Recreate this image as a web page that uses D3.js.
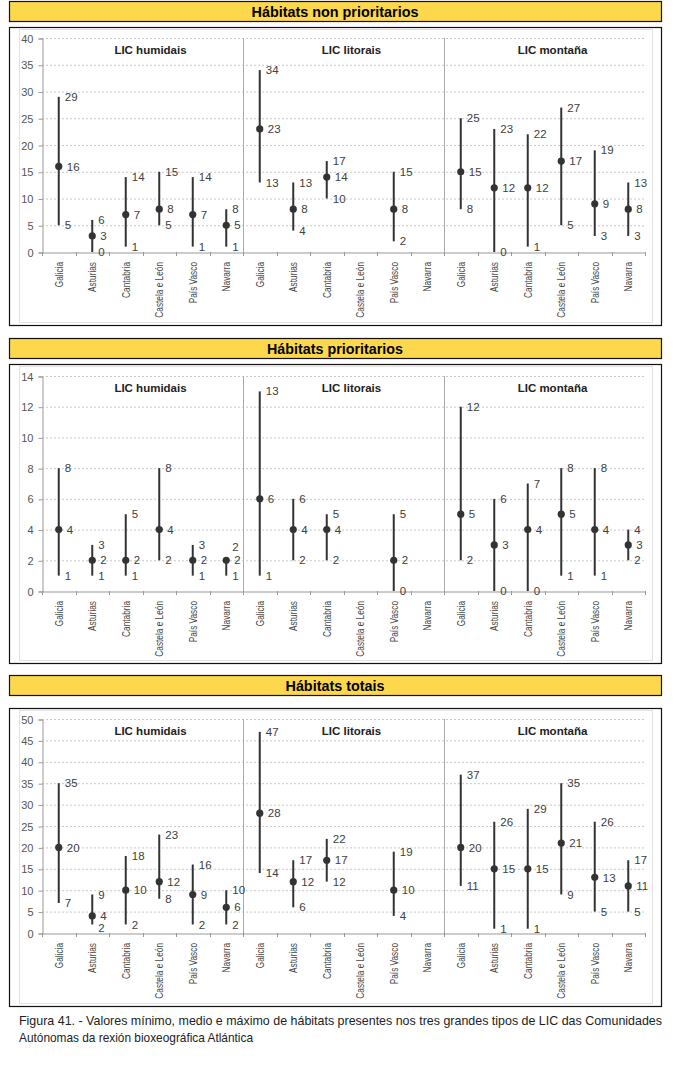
<!DOCTYPE html>
<html lang="gl">
<head>
  <meta charset="UTF-8">
  <title>Figura 41 - Hábitats por tipo de LIC</title>
  <script src="https://d3js.org/d3.v7.min.js"></script>
  <style>
    body {
      margin: 0;
      background: white;
      font-family: "Liberation Sans", Arial, sans-serif;
    }
    svg { display: block; }
    .grid line { stroke: #c8c8c8; stroke-dasharray: 2,2; }
    .tick-label { font-size: 11px; fill: #555; }
    .cat-label { font-size: 11.5px; fill: #444; }
    .val-label { font-size: 11.5px; fill: #404040; }
    .group-title { font-size: 11.5px; font-weight: bold; fill: #222; }
    .bar-title { font-size: 15px; font-weight: bold; fill: #000; }
    .caption { font-size: 13px; fill: #222; }
  </style>
</head>
<body>
<svg width="700" height="1069"></svg>
<script>
  const regions = ["Galicia", "Asturias", "Cantabria", "Castela e León", "País Vasco", "Navarra"];
  const groups = ["LIC humidais", "LIC litorais", "LIC montaña"];

  // order: humidais x6, litorais x6, montaña x6 (null = no data)
  const nonPriorMin  = [5, 0, 1, 5, 1, 1,   13, 4, 10, null, 2, null,   8, 0, 1, 5, 3, 3];
  const nonPriorMean = [16, 3, 7, 8, 7, 5,  23, 8, 14, null, 8, null,   15, 12, 12, 17, 9, 8];
  const nonPriorMax  = [29, 6, 14, 15, 14, 8, 34, 13, 17, null, 15, null, 25, 23, 22, 27, 19, 13];

  const priorMin  = [1, 1, 1, 2, 1, 1,  1, 2, 2, null, 0, null,  2, 0, 0, 1, 1, 2];
  const priorMean = [4, 2, 2, 4, 2, 2,  6, 4, 4, null, 2, null,  5, 3, 4, 5, 4, 3];
  const priorMax  = [8, 3, 5, 8, 3, 2,  13, 6, 5, null, 5, null, 12, 6, 7, 8, 8, 4];

  const totalMin  = [7, 2, 2, 8, 2, 2,     14, 6, 12, null, 4, null,   11, 1, 1, 9, 5, 5];
  const totalMean = [20, 4, 10, 12, 9, 6,  28, 12, 17, null, 10, null, 20, 15, 15, 21, 13, 11];
  const totalMax  = [35, 9, 18, 23, 16, 10, 47, 17, 22, null, 19, null, 37, 26, 29, 35, 26, 17];

  const panelTitles = ["Hábitats non prioritarios", "Hábitats prioritarios", "Hábitats totais"];
  const yMaxes = [40, 14, 50];
  const yTickSteps = [5, 2, 5];

  const caption = [
    "Figura 41. -  Valores mínimo, medio e máximo de hábitats presentes nos tres grandes tipos de LIC das Comunidades",
    "Autónomas da rexión bioxeográfica Atlántica"
  ];

  const panels = [
    { title: panelTitles[0], yMax: yMaxes[0], step: yTickSteps[0], min: nonPriorMin, mean: nonPriorMean, max: nonPriorMax,
      barTop: 1, boxTop: 27, boxBottom: 325, plotTop: 38, plotBottom: 252, titleW: 167 },
    { title: panelTitles[1], yMax: yMaxes[1], step: yTickSteps[1], min: priorMin, mean: priorMean, max: priorMax,
      barTop: 338, boxTop: 364, boxBottom: 663, plotTop: 376, plotBottom: 591, titleW: 136 },
    { title: panelTitles[2], yMax: yMaxes[2], step: yTickSteps[2], min: totalMin, mean: totalMean, max: totalMax,
      barTop: 675, boxTop: 708, boxBottom: 1006, plotTop: 719, plotBottom: 933, titleW: 99 }
  ];

  const svg = d3.select("svg");
  const left = 42, right = 645;

  const keys = [];
  groups.forEach(g => regions.forEach(r => keys.push(g + "|" + r)));

  const x = d3.scaleBand().domain(keys).range([left, right]);
  const xGroup = d3.scaleBand().domain(groups).range([left, right]);

  panels.forEach(p => {
    const g = svg.append("g");

    // yellow title bar
    g.append("rect")
      .attr("x", 9.5).attr("y", p.barTop + 0.5)
      .attr("width", 652).attr("height", 20)
      .attr("fill", "#fdd84c").attr("stroke", "#111").attr("stroke-width", 1.2);
    g.append("text").attr("class", "bar-title")
      .attr("x", 335).attr("y", p.barTop + 16)
      .attr("text-anchor", "middle")
      .attr("textLength", p.titleW).attr("lengthAdjust", "spacingAndGlyphs")
      .text(p.title);

    // chart box
    g.append("rect")
      .attr("x", 9.5).attr("y", p.boxTop + 0.5)
      .attr("width", 652).attr("height", p.boxBottom - p.boxTop)
      .attr("fill", "white").attr("stroke", "#111").attr("stroke-width", 1.2);
    g.append("rect")
      .attr("x", 19.5).attr("y", p.boxTop + 2.5)
      .attr("width", 633).attr("height", p.boxBottom - p.boxTop - 5)
      .attr("fill", "none").attr("stroke", "#e2e2e2");

    const y = d3.scaleLinear().domain([0, p.yMax]).range([p.plotBottom, p.plotTop]);
    const ticks = d3.range(0, p.yMax + 0.001, p.step);

    // gridlines
    g.append("g").attr("class", "grid")
      .selectAll("line").data(ticks.filter(t => t > 0)).join("line")
      .attr("x1", left).attr("x2", right)
      .attr("y1", d => y(d) + 0.5).attr("y2", d => y(d) + 0.5);

    // y axis
    const yAxis = g.append("g")
      .attr("transform", `translate(${left + 0.5},0.5)`)
      .call(d3.axisLeft(y).tickValues(ticks).tickSize(4).tickPadding(5));
    yAxis.select(".domain").attr("stroke", "#999");
    yAxis.selectAll(".tick line").attr("stroke", "#999");
    yAxis.selectAll(".tick text").attr("class", "tick-label").attr("font-family", null).attr("font-size", null).attr("fill", null);

    // x axis with ticks at category boundaries
    const xAxis = g.append("g")
      .attr("transform", `translate(0,${p.plotBottom + 0.5})`)
      .call(d3.axisBottom(x).tickSize(0).tickFormat(""));
    xAxis.select(".domain").attr("stroke", "#999");
    g.append("g").selectAll("line")
      .data(d3.range(keys.length + 1)).join("line")
      .attr("x1", i => Math.round(left + i * x.bandwidth()) + 0.5)
      .attr("x2", i => Math.round(left + i * x.bandwidth()) + 0.5)
      .attr("y1", p.plotBottom).attr("y2", p.plotBottom + 4)
      .attr("stroke", "#999");

    // group dividers
    g.append("g").selectAll("line")
      .data(groups.slice(1)).join("line")
      .attr("x1", d => Math.round(xGroup(d)) + 0.5).attr("x2", d => Math.round(xGroup(d)) + 0.5)
      .attr("y1", p.plotBottom).attr("y2", p.plotTop)
      .attr("stroke", "#aaa");

    // group titles
    g.append("g").selectAll("text")
      .data(groups).join("text")
      .attr("class", "group-title")
      .attr("x", d => xGroup(d) + xGroup.bandwidth() / 2 + 8)
      .attr("y", p.plotTop + 16)
      .attr("text-anchor", "middle")
      .text(d => d);

    // category labels (compressed like the narrow font of the original)
    g.append("g").selectAll("text")
      .data(keys).join("text")
      .attr("class", "cat-label")
      .attr("text-anchor", "end")
      .attr("transform", d => `translate(${x(d) + x.bandwidth() / 2 + 4},${p.plotBottom + 10}) rotate(-90) scale(0.72,1)`)
      .text(d => d.split("|")[1]);

    // high-low-mean marks
    const rows = keys.map((k, i) => ({ key: k, min: p.min[i], mean: p.mean[i], max: p.max[i] }))
      .filter(d => d.mean !== null);

    const marks = g.append("g");
    marks.selectAll("line").data(rows).join("line")
      .attr("x1", d => x(d.key) + x.bandwidth() / 2)
      .attr("x2", d => x(d.key) + x.bandwidth() / 2)
      .attr("y1", d => y(d.min)).attr("y2", d => y(d.max))
      .attr("stroke", "#333").attr("stroke-width", 2);
    marks.selectAll("circle").data(rows).join("circle")
      .attr("cx", d => x(d.key) + x.bandwidth() / 2)
      .attr("cy", d => y(d.mean))
      .attr("r", 3.6).attr("fill", "#333");

    const labels = [];
    rows.forEach(d => {
      const cx = x(d.key) + x.bandwidth() / 2;
      let yMaxLab = Math.min(y(d.max), y(d.mean) - 11);
      if (d.max === d.mean) yMaxLab = y(d.mean) - 13;
      const yMinLab = Math.max(y(d.min), y(d.mean) + 11.5);
      labels.push({ x: cx + 6, y: yMaxLab, v: d.max });
      labels.push({ x: cx + 8, y: y(d.mean), v: d.mean });
      labels.push({ x: cx + 6, y: yMinLab, v: d.min });
    });
    g.append("g").selectAll("text").data(labels).join("text")
      .attr("class", "val-label")
      .attr("x", d => d.x).attr("y", d => d.y)
      .attr("dy", "0.36em")
      .text(d => d.v);
  });

  // caption
  svg.append("text").attr("class", "caption")
    .attr("x", 19).attr("y", 1025)
    .attr("textLength", 643).attr("lengthAdjust", "spacingAndGlyphs")
    .text(caption[0]);
  svg.append("text").attr("class", "caption")
    .attr("x", 19).attr("y", 1042)
    .attr("textLength", 234).attr("lengthAdjust", "spacingAndGlyphs")
    .text(caption[1]);
</script>
</body>
</html>
